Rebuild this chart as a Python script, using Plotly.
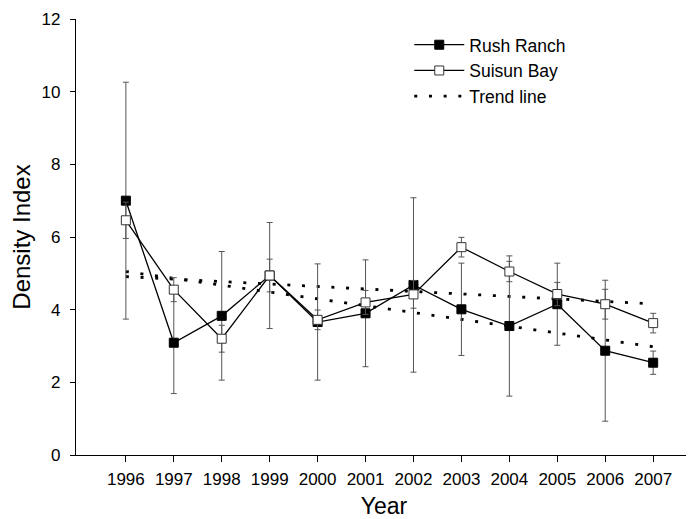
import plotly.graph_objects as go

years = [1996, 1997, 1998, 1999, 2000, 2001, 2002, 2003, 2004, 2005, 2006, 2007]
tick_labels = [str(y) for y in years]

rush_ranch = [7.00, 3.09, 3.83, 4.94, 3.66, 3.90, 4.68, 4.01, 3.55, 4.15, 2.87, 2.54]
rush_err = [3.26, 1.40, 1.77, 1.46, 1.60, 1.47, 2.40, 1.27, 1.93, 1.13, 1.94, 0.32]

suisun_bay = [6.46, 4.55, 3.20, 4.94, 3.72, 4.20, 4.42, 5.72, 5.05, 4.43, 4.15, 3.63]
suisun_err = [0.50, 0.33, 0.37, 0.45, 0.27, 0.33, 0.38, 0.27, 0.28, 0.32, 0.41, 0.27]

trend_years = [1996, 2007]
rush_trend = [5.05, 2.98]
suisun_trend = [4.91, 4.16]

FONT = "Liberation Sans, Arial, sans-serif"
ERR_COLOR = "#555555"

fig = go.Figure()

fig.add_trace(go.Scatter(
    x=trend_years, y=rush_trend, mode="lines", name="Trend line",
    line=dict(color="black", width=2.8, dash="3px,11.7px"),
    legendrank=3, showlegend=True,
))
fig.add_trace(go.Scatter(
    x=trend_years, y=suisun_trend, mode="lines", name="Trend line",
    line=dict(color="black", width=2.8, dash="3px,11.7px"),
    legendrank=4, showlegend=False,
))
fig.add_trace(go.Scatter(
    x=years, y=rush_ranch, mode="lines+markers", name="Rush Ranch",
    line=dict(color="black", width=1.3),
    marker=dict(symbol="square", size=9, color="black", line=dict(color="black", width=1)),
    error_y=dict(type="data", array=rush_err, visible=True, color=ERR_COLOR, thickness=1, width=3),
    legendrank=1,
))
fig.add_trace(go.Scatter(
    x=years, y=suisun_bay, mode="lines+markers", name="Suisun Bay",
    line=dict(color="black", width=1.3),
    marker=dict(symbol="square", size=9, color="white", line=dict(color="#333333", width=1)),
    error_y=dict(type="data", array=suisun_err, visible=True, color=ERR_COLOR, thickness=1, width=3),
    legendrank=2,
))

# page body has an 8px margin, so the figure is shifted by 8px right and down
fig.update_layout(
    width=686, height=511,
    margin=dict(l=68, r=2, t=11, b=64),
    paper_bgcolor="white", plot_bgcolor="white",
    font=dict(family=FONT, color="black", size=17),
    showlegend=True,
    legend=dict(
        x=0.541, y=0.982, xanchor="left", yanchor="top",
        font=dict(family=FONT, size=17.5, color="black"),
        bgcolor="rgba(0,0,0,0)", tracegroupgap=0, itemwidth=50,
    ),
    xaxis=dict(
        range=[1994.96, 2007.81], automargin=False,
        tickmode="array", tickvals=years, ticktext=tick_labels,
        showline=True, linecolor="black", linewidth=1.3,
        ticks="outside", ticklen=6, tickcolor="black", tickwidth=1,
        ticklabelstandoff=2,
        showgrid=False, zeroline=False,
        tickfont=dict(family=FONT, size=17, color="black"),
        title=dict(text="Year", font=dict(family=FONT, size=23, color="black"), standoff=13),
    ),
    yaxis=dict(
        range=[0, 12], dtick=2, tick0=0, automargin=False,
        showline=True, linecolor="black", linewidth=1.3,
        ticks="outside", ticklen=5, tickcolor="black", tickwidth=1,
        ticklabelstandoff=6,
        showgrid=False, zeroline=False,
        tickfont=dict(family=FONT, size=17, color="black"),
        title=dict(text="Density Index", font=dict(family=FONT, size=24, color="black"), standoff=8),
    ),
)

fig.write_html("out.html")
